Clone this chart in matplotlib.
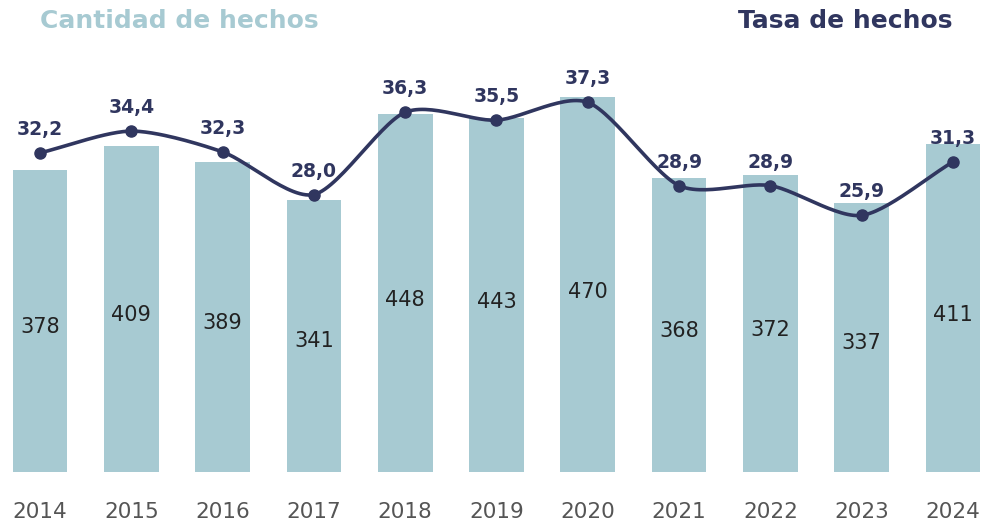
import numpy
import matplotlib
matplotlib.use("Agg")
import matplotlib.pyplot as plt

years = ["2014", "2015", "2016", "2017", "2018", "2019", "2020", "2021", "2022", "2023", "2024"]
cantidad = [378, 409, 389, 341, 448, 443, 470, 368, 372, 337, 411]
tasa = [32.2, 34.4, 32.3, 28.0, 36.3, 35.5, 37.3, 28.9, 28.9, 25.9, 31.3]

bar_color = "#a7cad2"
line_color = "#30365f"


def catmull_rom(xs, ys, steps=30, tension=0.4):
    """ Smooth curve through every point (like a spreadsheet 'smoothed line') """
    xs = numpy.asarray(xs, dtype=float)
    ys = numpy.asarray(ys, dtype=float)
    px = numpy.concatenate([[2 * xs[0] - xs[1]], xs, [2 * xs[-1] - xs[-2]]])
    py = numpy.concatenate([[2 * ys[0] - ys[1]], ys, [2 * ys[-1] - ys[-2]]])
    out_x, out_y = [], []
    t = numpy.linspace(0, 1, steps)
    h00 = 2 * t ** 3 - 3 * t ** 2 + 1
    h10 = t ** 3 - 2 * t ** 2 + t
    h01 = -2 * t ** 3 + 3 * t ** 2
    h11 = t ** 3 - t ** 2
    for i in range(1, len(px) - 2):
        for p, out in ((px, out_x), (py, out_y)):
            m1 = tension * (p[i + 1] - p[i - 1])
            m2 = tension * (p[i + 2] - p[i])
            out.extend(h00 * p[i] + h10 * m1 + h01 * p[i + 1] + h11 * m2)
    return out_x, out_y


fig = plt.figure(figsize=(9.82, 5.22), dpi=100)
ax = fig.add_axes([0, 50 / 522, 1, 412 / 522])
x = numpy.arange(len(years))

ax.bar(x, cantidad, width=0.6, color=bar_color, zorder=1)
for xi, v in zip(x, cantidad):
    ax.text(xi, v * 0.48, str(v), ha="center", va="center", fontsize=15, color="#222222")

ax.set_xlim(-40 / 91.3, (982 - 40) / 91.3)
ax.set_ylim(0, 412 / 0.798)
ax.axis("off")

ax2 = ax.twinx()
ax2.set_ylim(0, 412 / 9.91)
ax2.axis("off")
cx, cy = catmull_rom(x, tasa)
ax2.plot(cx, cy, color=line_color, lw=2.6, zorder=3)
ax2.plot(x, tasa, "o", color=line_color, markersize=8, zorder=4)
for xi, v in zip(x, tasa):
    ax2.annotate(("%.1f" % v).replace(".", ","), (xi, v), xytext=(0, 10), textcoords="offset points",
                 ha="center", va="bottom", fontsize=13.5, fontweight="bold", color=line_color)

for xi, yr in zip(x, years):
    ax.text(xi, -40 / 0.798, yr, ha="center", va="center", fontsize=15.5, color="#555555")

fig.text(40 / 982, 1 - 21 / 522, "Cantidad de hechos", ha="left", va="center",
         fontsize=18, fontweight="bold", color=bar_color)
fig.text(953 / 982, 1 - 21 / 522, "Tasa de hechos", ha="right", va="center",
         fontsize=18, fontweight="bold", color=line_color)

fig.savefig("out.png", dpi=100)
